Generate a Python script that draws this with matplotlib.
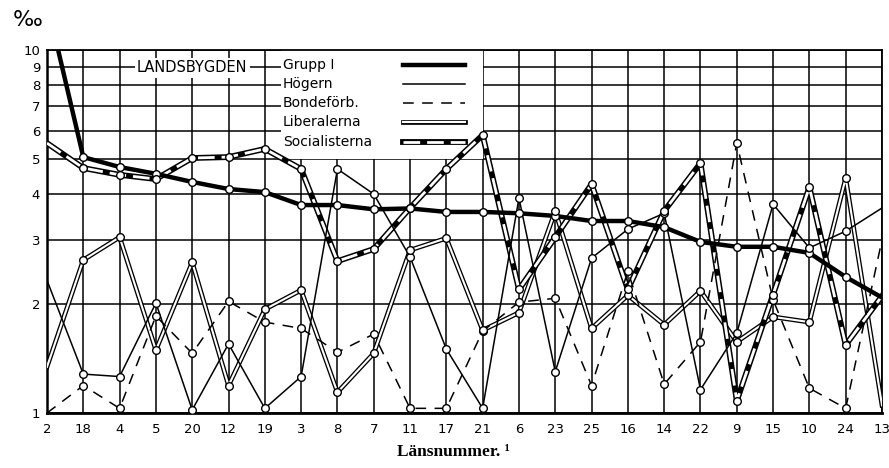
import matplotlib.pyplot as plt
from matplotlib.patches import Rectangle
import numpy as np

# Länsnummer in the order of the x axis
lan = ['2', '18', '4', '5', '20', '12', '19', '3', '8', '7', '11', '17',
       '21', '6', '23', '25', '16', '14', '22', '9', '15', '10', '24', '13']

# promille
grupp_1 = [13.5, 5.07, 4.76, 4.56, 4.33, 4.14, 4.06, 3.74, 3.74, 3.64, 3.66, 3.58,
           3.58, 3.55, 3.49, 3.38, 3.38, 3.25, 2.96, 2.87, 2.87, 2.76, 2.37, 2.08]
hogern = [2.32, 1.28, 1.26, 2.01, 1.02, 1.55, 1.03, 1.26, 4.70, 4.01, 2.69, 1.50,
          1.03, 3.91, 1.30, 2.67, 3.21, 3.55, 1.16, 1.66, 3.76, 2.85, 3.17, 3.67]
bondeforb = [1.0, 1.19, 1.03, 1.85, 1.46, 2.03, 1.78, 1.71, 1.47, 1.65, 1.03, 1.03,
             1.68, 2.02, 2.07, 1.19, 2.46, 1.20, 1.57, 5.54, 2.05, 1.17, 1.03, 3.0]
liberalerna = [1.34, 2.64, 3.05, 1.49, 2.60, 1.19, 1.93, 2.18, 1.14, 1.46, 2.81, 3.03,
               1.69, 1.89, 3.60, 1.71, 2.11, 1.75, 2.17, 1.57, 1.84, 1.78, 4.44, 1.05]
socialisterna = [5.54, 4.73, 4.53, 4.41, 5.04, 5.07, 5.34, 4.70, 2.62, 2.83, 3.67, 4.70,
                 5.83, 2.19, 3.05, 4.27, 2.19, 3.60, 4.88, 1.08, 2.12, 4.19, 1.54, 2.10]

yticks = [1, 2, 3, 4, 5, 6, 7, 8, 9, 10]
W, H = 889, 468
L, R, T, B = 47, 882, 50, 413

fig = plt.figure(figsize=(W / 100, H / 100), dpi=100)
ax = fig.add_axes([L / W, 1 - B / H, (R - L) / W, (B - T) / H])
x = np.arange(len(lan))

ax.set_yscale('log')
ax.set_ylim(1, 10)
ax.set_xlim(0, 23)
ax.set_yticks(yticks)
ax.set_yticklabels([str(v) for v in yticks])
ax.yaxis.set_minor_locator(plt.NullLocator())
ax.set_xticks(x)
ax.set_xticklabels(lan)
ax.tick_params(length=0, labelsize=9.5, colors='black')
ax.tick_params(axis='x', pad=7)
ax.tick_params(axis='y', pad=5)
ax.grid(True, color='black', lw=1.1)
ax.set_axisbelow(True)
for s, w in zip(['left', 'bottom', 'top', 'right'], [1.8, 2.0, 1.3, 1.3]):
    ax.spines[s].set_linewidth(w)
    ax.spines[s].set_color('black')

# white box behind the legend
ax.add_patch(Rectangle((6.44, 5), 12 - 6.44, 5, fc='white', ec='none', zorder=1))

# series lines
ax.plot(x, liberalerna, color='black', lw=3.4, zorder=3)
ax.plot(x, liberalerna, color='white', lw=1.5, zorder=3.1)
ax.plot(x, socialisterna, color='black', lw=4.2, zorder=3.2)
ax.plot(x, socialisterna, color='white', lw=2.0, dashes=(6, 2.5), zorder=3.3)
ax.plot(x, hogern, color='black', lw=1.1, zorder=3.4)
ax.plot(x, bondeforb, color='black', lw=1.1, dashes=(7, 5.5), zorder=3.4)
ax.plot(x, grupp_1, color='black', lw=3.2, zorder=3.5)

mk = dict(ls='none', marker='o', ms=5.5, mfc='white', mec='black', mew=1.0,
          markevery=range(1, 23), zorder=10)
for serie in [grupp_1, hogern, bondeforb, liberalerna, socialisterna]:
    ax.plot(x, serie, **mk)


def px(xp, yp):
    return (xp - L) / (R - L), (B - yp) / (B - T)


# legend, drawn by hand
ax.text(*px(137, 68), 'LANDSBYGDEN', fontsize=10.5, va='center', ha='left',
        transform=ax.transAxes, zorder=2,
        bbox=dict(fc='white', ec='none', pad=1.5))
rows = [65, 84, 103, 122, 142]
names = ['Grupp I', 'Högern', 'Bondeförb.', 'Liberalerna', 'Socialisterna']
for yr, name in zip(rows, names):
    ax.text(*px(283, yr), name, fontsize=10, va='center', ha='left',
            transform=ax.transAxes, zorder=6)
hx0, hx1 = px(403, 0)[0], px(465, 0)[0]


def hline(yr, **kw):
    yy = px(0, yr)[1]
    ax.plot([hx0, hx1], [yy, yy], transform=ax.transAxes, clip_on=False, **kw)


hline(rows[0], color='black', lw=3.2, zorder=6)
hline(rows[1], color='black', lw=1.1, zorder=6)
hline(rows[2], color='black', lw=1.1, dashes=(7, 5.5), zorder=6)
hline(rows[3], color='black', lw=3.4, zorder=6)
hline(rows[3], color='white', lw=1.5, zorder=6.1)
hline(rows[4], color='black', lw=4.2, zorder=6)
hline(rows[4], color='white', lw=2.0, dashes=(6, 2.5), zorder=6.1)

fig.text(28 / W, 1 - 20 / H, '‰', fontsize=16, ha='center', va='center')
fig.text(453 / W, 1 - 452 / H, 'Länsnummer. ¹', fontsize=12.5, fontweight='bold',
         family='Liberation Serif', ha='center', va='center')

plt.savefig('out.png', dpi=100)
